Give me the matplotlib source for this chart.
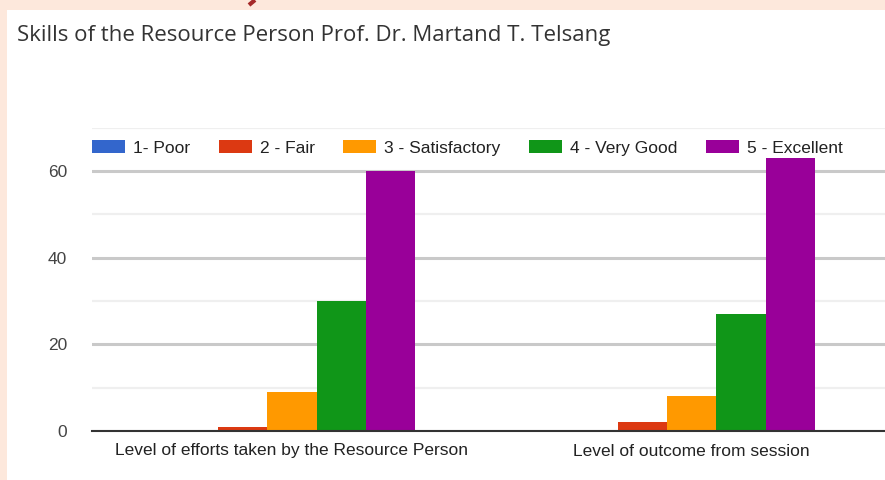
import matplotlib
matplotlib.use("Agg")
import matplotlib.pyplot as plt
from matplotlib.patches import Rectangle
from matplotlib.lines import Line2D
import numpy as np

plt.rcParams['font.family'] = ['Liberation Sans', 'DejaVu Sans']

title = "Skills of the Resource Person Prof. Dr. Martand T. Telsang"
categories = ["Level of efforts taken by the Resource Person",
              "Level of outcome from session"]
series_names = ["1- Poor", "2 - Fair", "3 - Satisfactory", "4 - Very Good", "5 - Excellent"]
poor = [0, 0]
fair = [1, 2]
satisfactory = [9, 8]
very_good = [30, 27]
excellent = [60, 63]
colors = ["#3366cc", "#dc3912", "#ff9900", "#109618", "#990099"]
y_ticks = [0, 20, 40, 60]

W, H = 885, 480
fig = plt.figure(figsize=(W / 100, H / 100), dpi=100)
fig.patch.set_facecolor("#fde8dc")

# white card behind the chart
fig.patches.append(Rectangle((7 / W, 0), 1, 1 - 10 / H, transform=fig.transFigure,
                             facecolor="white", edgecolor="none", zorder=-10))
# small dark-red stroke peeking in from the page above the card
fig.lines.append(Line2D([255 / W, 249 / W], [1.0, 1 - 5 / H], transform=fig.transFigure,
                        color="#a52a2a", linewidth=3, solid_capstyle="butt", zorder=-5))

x0, x1 = 92, 891.5
y0, ytop = 431, 127.7
ax = fig.add_axes([x0 / W, (H - y0) / H, (x1 - x0) / W, (y0 - ytop) / H])
ax.set_facecolor("none")

values = [poor, fair, satisfactory, very_good, excellent]
n = len(values)
bw = 0.1235
x = np.arange(len(categories))
for i, (vals, name, c) in enumerate(zip(values, series_names, colors)):
    ax.bar(x + (i - (n - 1) / 2) * bw, vals, width=bw, color=c, label=name,
           zorder=3, linewidth=0)

ax.set_xlim(-0.5, 1.5)
ax.set_ylim(0, 70)
ax.set_yticks(y_ticks)
ax.set_yticklabels([str(v) for v in y_ticks])
ax.set_yticks([10, 30, 50, 70], minor=True)
ax.grid(axis="y", which="major", color="#c9c9c9", linewidth=2.2, zorder=1)
ax.grid(axis="y", which="minor", color="#efefef", linewidth=1.6, zorder=1)
ax.set_xticks(x)
ax.set_xticklabels(categories)
for s in ["top", "right", "left"]:
    ax.spines[s].set_visible(False)
ax.spines["bottom"].set_color("#333333")
ax.spines["bottom"].set_linewidth(1.5)
ax.spines["bottom"].set_zorder(4)
ax.tick_params(axis="y", which="both", length=0, pad=18, labelsize=12.5, labelcolor="#444444")
ax.tick_params(axis="x", length=0, pad=9, labelsize=12.5, labelcolor="#222222")

fs = 12.5
fpx = fs * 100 / 72
leg = ax.legend(loc="center left", bbox_to_anchor=(0.0, 1 - (148 - ytop) / (y0 - ytop)),
                ncol=5, frameon=False, fontsize=fs, handlelength=33 / fpx,
                handleheight=13 / fpx, handletextpad=8 / fpx, columnspacing=28.5 / fpx,
                borderaxespad=0, borderpad=0)
for t in leg.get_texts():
    t.set_color("#222222")

fig.text(17 / W, 1 - 35 / H, title, fontsize=16, color="#333333", va="center", ha="left",
         family=["Open Sans", "DejaVu Sans"])

fig.savefig("out.png", dpi=100, facecolor=fig.get_facecolor())
